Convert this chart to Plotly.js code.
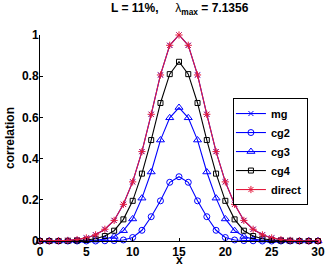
<!DOCTYPE html>
<html>
<head>
<meta charset="utf-8">
<script src="https://cdn.plot.ly/plotly-3.0.1.min.js"></script>
<style>html,body{margin:0;padding:0;background:#fff;}#chart{width:325px;height:268px;}</style>
</head>
<body>
<div id="chart"></div>
<script>
const xs = [0,1,2,3,4,5,6,7,8,9,10,11,12,13,14,15,16,17,18,19,20,21,22,23,24,25,26,27,28,29,30];
const mg = [0,0,0.001,0.003,0.007,0.015,0.03,0.057,0.10,0.178,0.287,0.434,0.615,0.806,0.95,1.0,0.95,0.806,0.615,0.434,0.287,0.178,0.10,0.057,0.03,0.015,0.007,0.003,0.001,0,0];
const cg2 = [0,0,0,0,0,0,0,0.001,0.002,0.005,0.017,0.052,0.118,0.195,0.285,0.312,0.285,0.195,0.118,0.052,0.017,0.005,0.002,0.001,0,0,0,0,0,0,0];
const cg3 = [0,0,0,0,0.001,0.002,0.004,0.009,0.022,0.05,0.107,0.208,0.335,0.49,0.598,0.648,0.598,0.49,0.335,0.208,0.107,0.05,0.022,0.009,0.004,0.002,0.001,0,0,0,0];
const cg4 = [0,0,0,0.001,0.002,0.005,0.011,0.024,0.05,0.105,0.195,0.327,0.49,0.67,0.81,0.87,0.81,0.67,0.49,0.327,0.195,0.105,0.05,0.024,0.011,0.005,0.002,0.001,0,0,0];
const direct = [0,0,0.001,0.003,0.007,0.015,0.03,0.057,0.10,0.178,0.287,0.434,0.615,0.806,0.95,1.0,0.95,0.806,0.615,0.434,0.287,0.178,0.10,0.057,0.03,0.015,0.007,0.003,0.001,0,0];
const names = ['mg','cg2','cg3','cg4','direct'];
const xTicks = [0,5,10,15,20,25,30];
const yTicks = [0,0.2,0.4,0.6,0.8,1];
const yTickText = ['0','0.2','0.4','0.6','0.8','1'];

const BLUE = '#0000ff', RED = '#e3193c', BLACK = '#000000';
const FONT = 'Liberation Sans, Arial, sans-serif';

function tr(y, name, color, symbol, size) {
  return {x: xs, y: y, name: '<b>' + name + '</b>', type: 'scatter', mode: 'lines+markers', cliponaxis: false,
    line: {color: color, width: 1.1},
    marker: {symbol: symbol, size: size, color: color, line: {color: color, width: 1}}};
}
const data = [
  tr(mg, names[0], BLUE, 'x-thin-open', 5),
  tr(cg2, names[1], BLUE, 'circle-open', 6),
  tr(cg3, names[2], BLUE, 'triangle-up-open', 7),
  tr(cg4, names[3], BLACK, 'square-open', 5),
  tr(direct, names[4], RED, 'asterisk-open', 6)
];
const layout = {
  width: 325, height: 268,
  margin: {l: 40, r: 7, t: 35, b: 27, pad: 0},
  paper_bgcolor: '#fff', plot_bgcolor: '#fff',
  font: {family: FONT, size: 12, color: '#000'},
  showlegend: true,
  title: {text: '<b>L = 11%,</b>&nbsp;&nbsp;&nbsp;&nbsp;&nbsp;λ<sub><b>max</b></sub><b> = 7.1356</b>', font: {family: FONT, size: 12, color: '#000'},
    x: 0.553, xanchor: 'center', y: 0.985, yanchor: 'top', yref: 'container'},
  xaxis: {range: [0, 30], tickvals: xTicks, ticktext: xTicks.map(v => '<b>' + v + '</b>'), ticks: 'inside', ticklen: 3, tickcolor: '#000',
    showline: true, linecolor: '#000', linewidth: 1, mirror: false, showgrid: false, zeroline: false,
    tickfont: {family: FONT, size: 12}},
  yaxis: {range: [0, 1], tickvals: yTicks, ticktext: yTickText.map(v => '<b>' + v + '</b>'), ticks: 'inside', ticklen: 3, tickcolor: '#000',
    showline: true, linecolor: '#000', linewidth: 1, mirror: false, showgrid: false, zeroline: false,
    tickfont: {family: FONT, size: 12}, ticklabelstandoff: -2,
    title: {text: '<b>correlation</b>', font: {family: FONT, size: 12}, standoff: 4}},
  annotations: [{text: '<b>x</b>', xref: 'paper', yref: 'paper', x: 0.5, y: -0.131, xanchor: 'center', yanchor: 'bottom',
    showarrow: false, borderpad: 0, font: {family: FONT, size: 12, color: '#000'}}],
  legend: {x: 0.694, y: 0.694, xanchor: 'left', yanchor: 'top', bgcolor: '#fff', bordercolor: '#000', borderwidth: 1,
    font: {family: FONT, size: 11}, tracegroupgap: 0, itemwidth: 30, indentation: -3}
};
Plotly.newPlot('chart', data, layout, {staticPlot: true, displayModeBar: false});
</script>
</body>
</html>
